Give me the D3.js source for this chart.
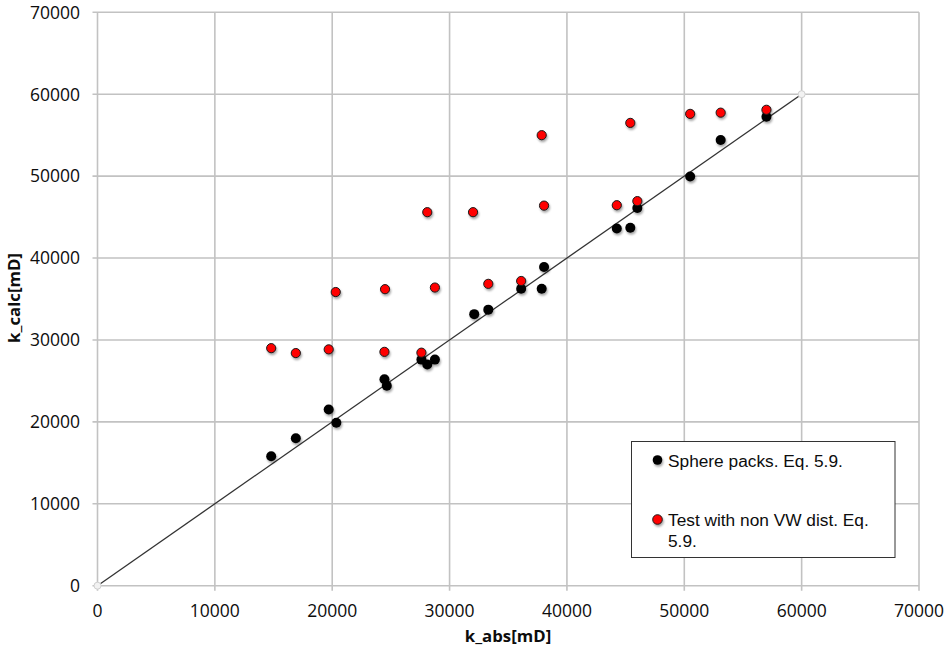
<!DOCTYPE html>
<html>
<head>
<meta charset="utf-8">
<script src="https://cdnjs.cloudflare.com/ajax/libs/d3/7.8.5/d3.min.js"></script>
<style>
  body { margin: 0; background: #fff; }
  text { font-family: "Open Sans", "Liberation Sans", sans-serif; fill: #0d0d0d; }
</style>
</head>
<body>
<script>
// sphere packs, Eq. 5.9
let sphere_x = [14800, 16900, 19700, 20350, 24450, 24650, 27600, 28100, 28750, 32100, 33300, 36100, 37850, 38050, 44250, 45400, 46000, 50500, 53100, 57000]
let sphere_y = [15800, 18000, 21500, 19900, 25200, 24400, 27600, 27000, 27600, 33150, 33700, 36250, 36250, 38900, 43600, 43700, 46100, 49950, 54400, 57250]

// test with non VW dist.
let test_x = [14800, 16900, 19700, 20300, 24450, 24500, 27600, 28100, 28750, 32000, 33300, 36100, 37850, 38050, 44250, 45400, 46000, 50500, 53100, 57000]
let test_y = [29000, 28400, 28850, 35850, 28550, 36200, 28450, 45600, 36400, 45600, 36850, 37200, 55000, 46400, 46450, 56500, 46950, 57600, 57750, 58100]

let ticks = [0, 10000, 20000, 30000, 40000, 50000, 60000, 70000]
let fit_line = [[0, 0], [60000, 60000]]
let legend_items = [
    {label: ["Sphere packs. Eq. 5.9."], color: "#000"},
    {label: ["Test with non VW dist. Eq.", "5.9."], color: "#ff0000"}
]

let W = 948, H = 649
let m_left = 97.5, m_right = 919, m_top = 12.3, m_bottom = 585.7

let x = d3.scaleLinear().domain([0, 70000]).range([m_left, m_right])
let y = d3.scaleLinear().domain([0, 70000]).range([m_bottom, m_top])

let svg = d3.select("body").append("svg")
    .attr("width", W)
    .attr("height", H)

let defs = svg.append("defs")
defs.append("filter")
    .attr("id", "shadow")
    .attr("x", "-50%").attr("y", "-50%").attr("width", "200%").attr("height", "200%")
    .append("feDropShadow")
    .attr("dx", 1).attr("dy", 2).attr("stdDeviation", 1.2)
    .attr("flood-color", "#000").attr("flood-opacity", 0.35)

// grid
svg.append("g").selectAll("line")
    .data(ticks)
    .join("line")
    .attr("x1", d => x(d)).attr("x2", d => x(d))
    .attr("y1", y(70000)).attr("y2", y(0) + 5)
    .attr("stroke", "#c2c2c2").attr("stroke-width", 1.6)

svg.append("g").selectAll("line")
    .data(ticks)
    .join("line")
    .attr("x1", x(0) - 5).attr("x2", x(70000))
    .attr("y1", d => y(d)).attr("y2", d => y(d))
    .attr("stroke", "#c2c2c2").attr("stroke-width", 1.6)

// tick labels
svg.append("g").selectAll("text")
    .data(ticks)
    .join("text")
    .attr("x", d => x(d))
    .attr("y", 616.5)
    .attr("text-anchor", "middle")
    .style("font-size", "17.5px")
    .text(d => d)

svg.append("g").selectAll("text")
    .data(ticks)
    .join("text")
    .attr("x", 80)
    .attr("y", d => y(d) + 6.3)
    .attr("text-anchor", "end")
    .style("font-size", "17.5px")
    .text(d => d)

// axis titles
svg.append("text")
    .attr("x", 508)
    .attr("y", 641.5)
    .attr("text-anchor", "middle")
    .style("font-size", "16.8px")
    .style("font-weight", "bold")
    .text("k_abs[mD]")

svg.append("text")
    .attr("transform", "translate(19.5,298) rotate(-90)")
    .attr("text-anchor", "middle")
    .style("font-size", "16.8px")
    .style("font-weight", "bold")
    .text("k_calc[mD]")

// line y = x
svg.append("path")
    .datum(fit_line)
    .attr("d", d3.line().x(d => x(d[0])).y(d => y(d[1])))
    .attr("fill", "none")
    .attr("stroke", "#333")
    .attr("stroke-width", 1.3)

svg.append("g").selectAll("circle")
    .data(fit_line)
    .join("circle")
    .attr("cx", d => x(d[0]))
    .attr("cy", d => y(d[1]))
    .attr("r", 3.5)
    .attr("fill", "#f2f2f2")
    .attr("stroke", "#d0d0d0")
    .attr("stroke-width", 1)

// points
svg.append("g").selectAll("circle")
    .data(d3.zip(sphere_x, sphere_y))
    .join("circle")
    .attr("cx", d => x(d[0]))
    .attr("cy", d => y(d[1]))
    .attr("r", 5)
    .attr("fill", "#000")
    .attr("filter", "url(#shadow)")

svg.append("g").selectAll("circle")
    .data(d3.zip(test_x, test_y))
    .join("circle")
    .attr("cx", d => x(d[0]))
    .attr("cy", d => y(d[1]))
    .attr("r", 4.6)
    .attr("fill", "#ff0000")
    .attr("stroke", "#1a1a1a")
    .attr("stroke-width", 1)
    .attr("filter", "url(#shadow)")

// legend
let legend = svg.append("g")
legend.append("rect")
    .attr("x", 631.5).attr("y", 441.5)
    .attr("width", 263.5).attr("height", 116)
    .attr("fill", "#fff")
    .attr("stroke", "#333")
    .attr("stroke-width", 1)

let rows = legend.selectAll("g")
    .data(legend_items)
    .join("g")
    .attr("transform", (d, i) => "translate(0," + (i * 59.5) + ")")

rows.append("circle")
    .attr("cx", 657.5).attr("cy", 460)
    .attr("r", 4.8)
    .attr("fill", d => d.color)
    .attr("stroke", d => d.color == "#000" ? "none" : "#1a1a1a")
    .attr("stroke-width", 1)
    .attr("filter", "url(#shadow)")

// legend uses a tighter font so the wrapped lines don't collide
rows.append("text")
    .attr("y", 466.5)
    .style("font-family", "\"Liberation Sans\", Arial, sans-serif")
    .style("font-size", "17.3px")
    .selectAll("tspan")
    .data(d => d.label)
    .join("tspan")
    .attr("x", 668)
    .attr("dy", (d, j) => j == 0 ? 0 : 20.7)
    .text(d => d)
</script>
</body>
</html>
